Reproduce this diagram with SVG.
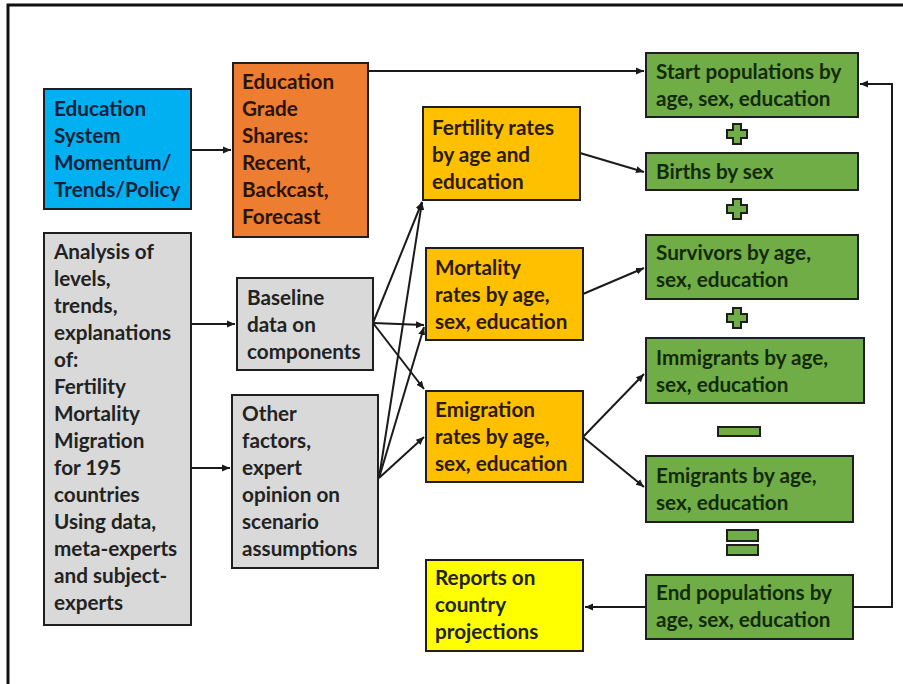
<svg xmlns="http://www.w3.org/2000/svg" width="903" height="684" viewBox="0 0 903 684">
<style>
.box{stroke:#1e1e1e;stroke-width:2}
.t{font-family:Lato,"Liberation Sans",sans-serif;font-weight:bold;font-size:20.7px}
.c{fill:none;stroke:#1a1a1a;stroke-width:2}
.op{fill:#70ad47;stroke:#1e1e1e;stroke-width:2}
</style>
<defs>
<marker id="ah" markerUnits="userSpaceOnUse" markerWidth="9" markerHeight="8" refX="8" refY="4" orient="auto">
<path d="M0,0.5 L8,4 L0,7.5 z" fill="#1a1a1a"/>
</marker>
</defs>
<rect width="903" height="684" fill="#ffffff"/>
<path d="M8,684 V5 H903" fill="none" stroke="#111" stroke-width="3"/>

<g id="connectors">
<path class="c" d="M191,150 H231" marker-end="url(#ah)"/>
<path class="c" d="M368,71 H644" marker-end="url(#ah)"/>
<path class="c" d="M191,324 H235" marker-end="url(#ah)"/>
<path class="c" d="M191,468 H230" marker-end="url(#ah)"/>
<path class="c" d="M373,323 L422,202" marker-end="url(#ah)"/>
<path class="c" d="M373,323 L424,325" marker-end="url(#ah)"/>
<path class="c" d="M373,323 L424,389" marker-end="url(#ah)"/>
<path class="c" d="M379,478 L422,202" marker-end="url(#ah)"/>
<path class="c" d="M379,478 L424,327" marker-end="url(#ah)"/>
<path class="c" d="M379,478 L424,437" marker-end="url(#ah)"/>
<path class="c" d="M580,153 L644,172" marker-end="url(#ah)"/>
<path class="c" d="M583,294 L644,268" marker-end="url(#ah)"/>
<path class="c" d="M583,437 L644,374" marker-end="url(#ah)"/>
<path class="c" d="M583,437 L644,487" marker-end="url(#ah)"/>
<path class="c" d="M646,607 H585" marker-end="url(#ah)"/>
<path class="c" d="M853,607 H892 V84 H860" marker-end="url(#ah)"/>
</g>

<g id="education-system">
<rect class="box" x="44" y="89" width="147" height="120" fill="#00b0f0"/>
<text class="t" fill="#0f1f3a"><tspan x="54" y="116">Education</tspan><tspan x="54" dy="27">System</tspan><tspan x="54" dy="27">Momentum/</tspan><tspan x="54" dy="27">Trends/Policy</tspan></text>
</g>

<g id="grade-shares">
<rect class="box" x="233" y="63" width="135" height="174" fill="#ed7d31"/>
<text class="t" fill="#2a1300"><tspan x="242" y="89">Education</tspan><tspan x="242" dy="27">Grade</tspan><tspan x="242" dy="27">Shares:</tspan><tspan x="242" dy="27">Recent,</tspan><tspan x="242" dy="27">Backcast,</tspan><tspan x="242" dy="27">Forecast</tspan></text>
</g>

<g id="analysis">
<rect class="box" x="44" y="233" width="147" height="392" fill="#d9d9d9"/>
<text class="t" fill="#222"><tspan x="54" y="259">Analysis of</tspan><tspan x="54" dy="27">levels,</tspan><tspan x="54" dy="27">trends,</tspan><tspan x="54" dy="27">explanations</tspan><tspan x="54" dy="27">of:</tspan><tspan x="54" dy="27">Fertility</tspan><tspan x="54" dy="27">Mortality</tspan><tspan x="54" dy="27">Migration</tspan><tspan x="54" dy="27">for 195</tspan><tspan x="54" dy="27">countries</tspan><tspan x="54" dy="27">Using data,</tspan><tspan x="54" dy="27">meta-experts</tspan><tspan x="54" dy="27">and subject-</tspan><tspan x="54" dy="27">experts</tspan></text>
</g>

<g id="baseline-data">
<rect class="box" x="237" y="278" width="136" height="92" fill="#d9d9d9"/>
<text class="t" fill="#222"><tspan x="247" y="305">Baseline</tspan><tspan x="247" dy="27">data on</tspan><tspan x="247" dy="27">components</tspan></text>
</g>

<g id="other-factors">
<rect class="box" x="232" y="395" width="146" height="173" fill="#d9d9d9"/>
<text class="t" fill="#222"><tspan x="242" y="421">Other</tspan><tspan x="242" dy="27">factors,</tspan><tspan x="242" dy="27">expert</tspan><tspan x="242" dy="27">opinion on</tspan><tspan x="242" dy="27">scenario</tspan><tspan x="242" dy="27">assumptions</tspan></text>
</g>

<g id="fertility-rates">
<rect class="box" x="423" y="107" width="157" height="93" fill="#ffc000"/>
<text class="t" fill="#2a1a00"><tspan x="432" y="135">Fertility rates</tspan><tspan x="432" dy="27">by age and</tspan><tspan x="432" dy="27">education</tspan></text>
</g>

<g id="mortality-rates">
<rect class="box" x="426" y="248" width="157" height="92" fill="#ffc000"/>
<text class="t" fill="#2a1a00"><tspan x="435" y="275">Mortality</tspan><tspan x="435" dy="27">rates by age,</tspan><tspan x="435" dy="27">sex, education</tspan></text>
</g>

<g id="emigration-rates">
<rect class="box" x="426" y="391" width="157" height="91" fill="#ffc000"/>
<text class="t" fill="#2a1a00"><tspan x="435" y="417">Emigration</tspan><tspan x="435" dy="27">rates by age,</tspan><tspan x="435" dy="27">sex, education</tspan></text>
</g>

<g id="reports">
<rect class="box" x="426" y="560" width="157" height="91" fill="#ffff00"/>
<text class="t" fill="#222"><tspan x="435" y="585">Reports on</tspan><tspan x="435" dy="27">country</tspan><tspan x="435" dy="27">projections</tspan></text>
</g>

<g id="start-populations">
<rect class="box" x="646" y="53" width="212" height="64" fill="#70ad47"/>
<text class="t" fill="#132a08"><tspan x="656" y="79">Start populations by</tspan><tspan x="656" dy="27">age, sex, education</tspan></text>
</g>

<g id="plus-1"><path class="op" d="M733,124 h8 v6 h6 v8 h-6 v6 h-8 v-6 h-6 v-8 h6 z"/></g>

<g id="births">
<rect class="box" x="646" y="153" width="212" height="37" fill="#70ad47"/>
<text class="t" fill="#132a08"><tspan x="656" y="179">Births by sex</tspan></text>
</g>

<g id="plus-2"><path class="op" d="M733,199 h8 v6 h6 v8 h-6 v6 h-8 v-6 h-6 v-8 h6 z"/></g>

<g id="survivors">
<rect class="box" x="646" y="235" width="212" height="64" fill="#70ad47"/>
<text class="t" fill="#132a08"><tspan x="656" y="260">Survivors by age,</tspan><tspan x="656" dy="27">sex, education</tspan></text>
</g>

<g id="plus-3"><path class="op" d="M733,308 h8 v6 h6 v8 h-6 v6 h-8 v-6 h-6 v-8 h6 z"/></g>

<g id="immigrants">
<rect class="box" x="646" y="338" width="218" height="65" fill="#70ad47"/>
<text class="t" fill="#132a08"><tspan x="656" y="365">Immigrants by age,</tspan><tspan x="656" dy="27">sex, education</tspan></text>
</g>

<g id="minus"><rect class="op" x="718" y="427" width="42" height="9"/></g>

<g id="emigrants">
<rect class="box" x="646" y="456" width="207" height="66" fill="#70ad47"/>
<text class="t" fill="#132a08"><tspan x="656" y="483">Emigrants by age,</tspan><tspan x="656" dy="27">sex, education</tspan></text>
</g>

<g id="equals"><rect class="op" x="727" y="530" width="31" height="11"/><rect class="op" x="727" y="545" width="31" height="10"/></g>

<g id="end-populations">
<rect class="box" x="646" y="575" width="207" height="64" fill="#70ad47"/>
<text class="t" fill="#132a08"><tspan x="656" y="600">End populations by</tspan><tspan x="656" dy="27">age, sex, education</tspan></text>
</g>
</svg>
